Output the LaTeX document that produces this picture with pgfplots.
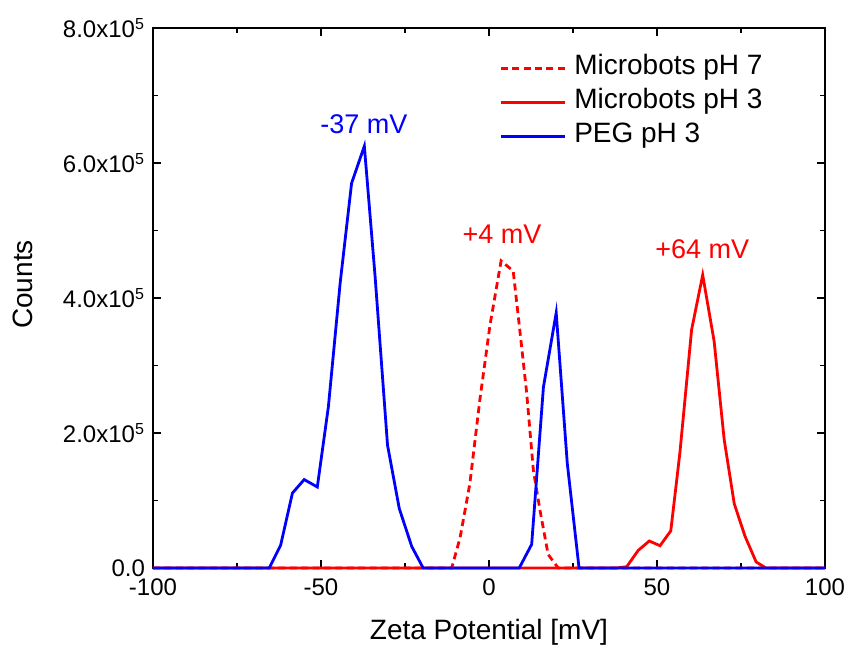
\documentclass[border=0pt]{standalone}
\usepackage{fontspec}
\setmainfont{Liberation Sans}
\usepackage{pgfplots}
\pgfplotsset{compat=1.18}
\definecolor{myred}{RGB}{255,0,0}
\definecolor{myblue}{RGB}{0,0,255}
\begin{document}
\begin{tikzpicture}
\begin{axis}[
  scale only axis,
  width=336pt, height=270pt,
  xmin=-100, xmax=100, ymin=0, ymax=800000,
  scaled ticks=false,
  xtick={-100,-50,0,50,100},
  xticklabels={-100,-50,0,50,100},
  minor x tick num=1,
  ytick={0,200000,400000,600000,800000},
  yticklabels={0.0,2.0x10\textsuperscript{5},4.0x10\textsuperscript{5},6.0x10\textsuperscript{5},8.0x10\textsuperscript{5}},
  minor y tick num=1,
  tick align=inside,
  major tick length=4pt,
  minor tick length=2.5pt,
  every tick/.style={black, line width=0.9pt},
  axis line style={black, line width=1.1pt},
  tick label style={font=\fontsize{12}{14}\selectfont},
  xticklabel style={yshift=-2pt},
  yticklabel style={xshift=-0.5pt},
  xlabel={Zeta Potential [mV]},
  ylabel={Counts},
  label style={font=\fontsize{14}{16}\selectfont},
  xlabel style={at={(axis description cs:0.5,-0.1185)}, anchor=center},
  ylabel style={at={(axis description cs:-0.1935,0.525)}, anchor=center, rotate=0},
  clip=false,
  legend image code/.code={\draw[#1] (0pt,0pt) -- (32pt,0pt);},
  legend style={draw=none, fill=none, font=\fontsize{14}{16}\selectfont,
    at={(rel axis cs:0.515,0.957)}, anchor=north west,
    nodes={inner sep=0pt, text height=11.5pt, text depth=5.5pt},
    row sep=0pt, column sep=4pt, inner sep=0pt},
  legend cell align=left,
]
\addplot[myred, line width=1.4pt, dash pattern=on 3.5pt off 2.2pt] coordinates {
(-100,0) (-11.1,0) (-8.6,45000) (-5.7,125000) (-2.7,250000) (0.3,360000)
(3.6,455000) (7.2,440000) (9,360000) (11.2,260000) (13.2,145000)
(15.2,85000) (17.6,20000) (20.6,0) (100,0)};
\addlegendentry{Microbots pH 7}
\addplot[myred, line width=1.4pt] coordinates {
(-100,0) (38,0) (41,2000) (44.4,26000) (47.7,40000) (50.9,33000) (54.1,55000)
(56.8,170000) (60.3,353000) (63.6,434000) (67,336000) (70,190000) (73,95000)
(76.2,47000) (79.5,9000) (82.4,0) (100,0)};
\addlegendentry{Microbots pH 3}
\addplot[myblue, line width=1.4pt] coordinates {
(-100,0) (-65.4,0) (-62,34000) (-58.5,111000) (-55,131000) (-51.1,120000)
(-47.8,239000) (-44.3,422000) (-40.9,570000) (-37.1,625000) (-33.9,432000)
(-30.2,182000) (-26.7,88000) (-23,32000) (-19.6,0) (9,0) (12.7,35000)
(16.2,268000) (20,378000) (23.3,155000) (26.8,0) (100,0)};
\addlegendentry{PEG pH 3}
\node[myblue, anchor=base, font=\fontsize{13.5}{15}\selectfont, inner sep=0pt] at (axis cs:-37.2,643000) {-37 mV};
\node[myred, anchor=base, font=\fontsize{13.5}{15}\selectfont, inner sep=0pt] at (axis cs:3.9,480000) {+4 mV};
\node[myred, anchor=base, font=\fontsize{13.5}{15}\selectfont, inner sep=0pt] at (axis cs:63.5,459000) {+64 mV};
\end{axis}
\pgfresetboundingbox
\path (-76.5pt,-39pt) rectangle (346.5pt,284pt);
\end{tikzpicture}
\end{document}
